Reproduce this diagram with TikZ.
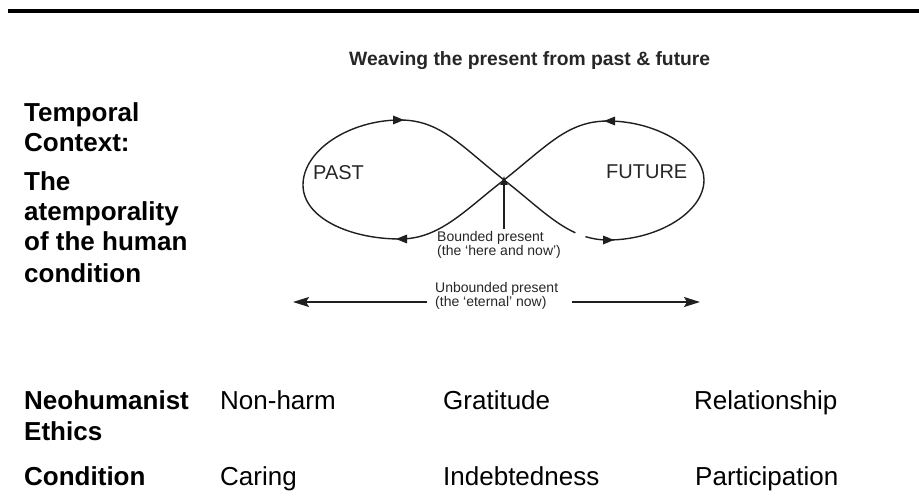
\documentclass[tikz,border=0pt]{standalone}
\usepackage{fontspec}
\setmainfont{Liberation Sans}
\usetikzlibrary{arrows.meta}
\begin{document}
\begin{tikzpicture}[x=1pt,y=-1pt,
  lbl/.style={anchor=base west,inner sep=0pt,font=\fontsize{26}{30}\selectfont\bfseries},
  cell/.style={anchor=base west,inner sep=0pt,font=\fontsize{26}{30}\selectfont},
  loopline/.style={line width=1.4pt,draw=black!88},
  smalltxt/.style={anchor=base west,inner sep=0pt,font=\fontsize{14}{14}\selectfont,text=black!85},
  bigtxt/.style={anchor=base west,inner sep=0pt,font=\fontsize{20}{24}\selectfont,text=black!85},
  headtri/.style={fill=black!88},
  longarrow/.style={line width=1.4pt,draw=black!88,-{Stealth[length=16pt,width=10pt,inset=3pt]}},
  uparrow/.style={line width=1.1pt,draw=black!88,-{Latex[length=9pt,width=8pt]}},
]
\useasboundingbox (0,0) rectangle (919,500);
\fill (8,9) rectangle (919,13);

\node[anchor=base west,inner sep=0pt,font=\fontsize{19.3}{23}\selectfont\bfseries,text=black!85] (title) at (349,66) {Weaving the present from past \& future};

% left labels
\node[lbl] (t1) at (24,122) {Temporal};
\node[lbl] (t2) at (24,152) {Context:};
\node[lbl] (t3) at (24,191) {The};
\node[lbl] (t4) at (24,221) {atemporality};
\node[lbl] (t5) at (24,251) {of the human};
\node[lbl] (t6) at (24,282) {condition};

% figure eight
\coordinate (cross) at (504,180);
\draw[loopline] (cross) .. controls (460,145) and (440,120) .. (400,120)
  .. controls (350,120) and (303,150) .. (303,185)
  .. controls (303,218) and (350,239) .. (400,239)
  .. controls (440,239) and (465,210) .. (cross);
\draw[loopline] (cross) .. controls (548,145) and (568,121) .. (608,121)
  .. controls (658,121) and (704,150) .. (704,180)
  .. controls (704,212) and (658,240) .. (608,240)
  .. controls (568,240) and (543,210) .. (cross);
\draw[white,line width=4pt] (575.5,232.8) -- (585.4,236.5);

\fill[headtri] (404,120) -- (393,115.5) -- (393,124.5) -- cycle;
\fill[headtri] (604,121) -- (615,116.5) -- (615,125.5) -- cycle;
\fill[headtri] (396,239) -- (407,234.5) -- (407,243.5) -- cycle;
\fill[headtri] (614,240) -- (603,235.5) -- (603,244.5) -- cycle;

\node[bigtxt] (past) at (313,180) {PAST};
\node[bigtxt] (future) at (606,178.5) {FUTURE};

\coordinate (bpstart) at (504,229);
\draw[uparrow] (bpstart) -- ([yshift=4pt]cross);
\node[smalltxt] (bp1) at (437,241.5) {Bounded present};
\node[smalltxt] (bp2) at (437,255.5) {(the ‘here and now’)};

\node[smalltxt] (ub1) at (435,292) {Unbounded present};
\node[smalltxt] (ub2) at (435,306) {(the ‘eternal’ now)};
\coordinate (uLs) at (427,302);
\coordinate (uL) at (293,302);
\coordinate (uRs) at (572,302);
\coordinate (uR) at (700,302);
\draw[longarrow] (uLs) -- (uL);
\draw[longarrow] (uRs) -- (uR);

% table
\node[lbl] (e1) at (24,409) {Neohumanist};
\node[lbl] (e2) at (24,440) {Ethics};
\node[lbl] (c1) at (24,485) {Condition};
\node[cell] (n1) at (220,409) {Non-harm};
\node[cell] (n2) at (443,409) {Gratitude};
\node[cell] (n3) at (694,409) {Relationship};
\node[cell] (c2) at (220,485) {Caring};
\node[cell] (c3) at (443,485) {Indebtedness};
\node[cell] (c4) at (695,485) {Participation};
\end{tikzpicture}
\end{document}
